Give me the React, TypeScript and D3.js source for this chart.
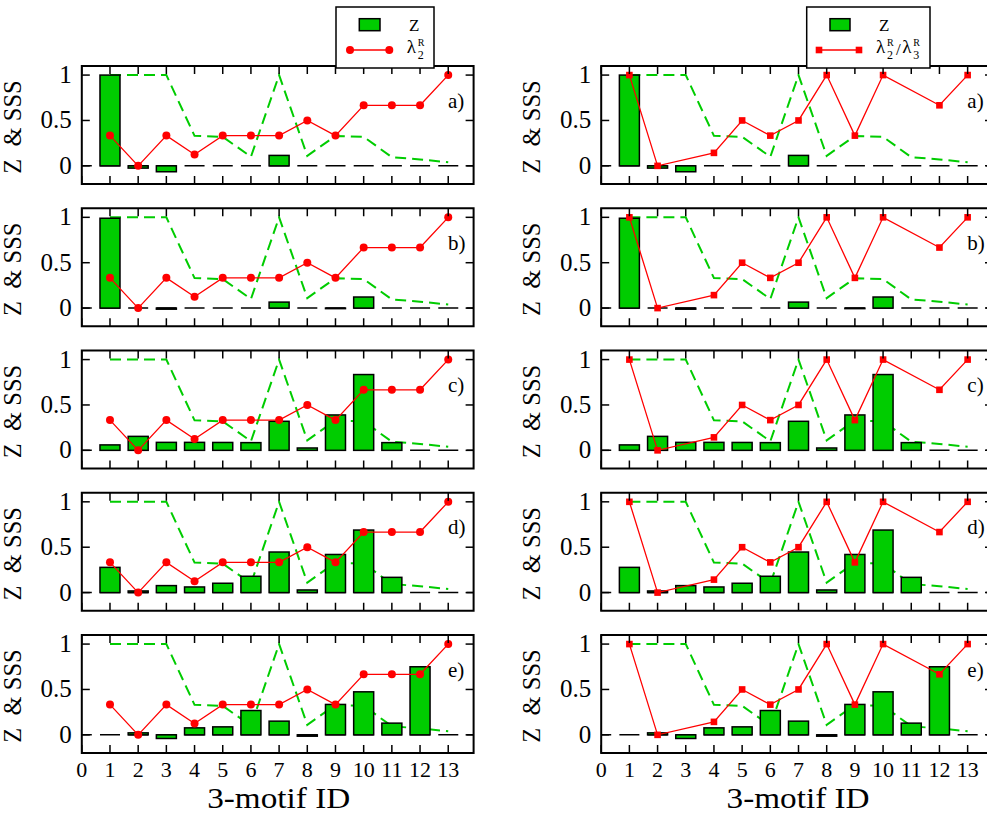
import React from "react";
import * as d3 from "d3";

const motifIds = [1, 2, 3, 4, 5, 6, 7, 8, 9, 10, 11, 12, 13];
const xTickLabels = [0, 1, 2, 3, 4, 5, 6, 7, 8, 9, 10, 11, 12, 13];
const yTickValues = [0, 0.5, 1];
const yTickLabels = ["0", "0.5", "1"];
const panelLabels = ["a)", "b)", "c)", "d)", "e)"];

const sssValues = [1, 1, 1, 0.33, 0.32, 0.1, 1, 0.11, 0.33, 0.32, 0.095, 0.07, 0.04];
const lambda2 = [0.333, 0, 0.333, 0.125, 0.333, 0.333, 0.333, 0.5, 0.333, 0.667, 0.667, 0.667, 1];
const lambdaRatio: (number | null)[] = [1, 0, null, 0.143, 0.5, 0.333, 0.5, 1, 0.333, 1, null, 0.667, 1];

const zA = [1.0, -0.025, -0.065, 0, 0, 0, 0.115, 0, 0, 0, 0, 0, 0];
const zB = [0.99, 0, -0.012, 0, 0, 0, 0.066, 0, -0.006, 0.122, 0, 0, 0];
const zC = [0.06, 0.154, 0.088, 0.088, 0.087, 0.085, 0.32, 0.026, 0.39, 0.835, 0.085, 0, 0];
const zD = [0.278, 0.018, 0.077, 0.062, 0.103, 0.18, 0.447, 0.029, 0.42, 0.689, 0.168, 0, 0];
const zE = [0, 0.022, -0.04, 0.077, 0.088, 0.268, 0.151, -0.015, 0.335, 0.474, 0.129, 0.75, 0];
const zPanels = [zA, zB, zC, zD, zE];

const W = 987;
const H = 814;
const FONT =
  '"Liberation Serif", LiberationSerif, Tinos, "Times New Roman", Times, "Nimbus Roman", "Nimbus Roman No9 L", FreeSerif, "Noto Serif", "DejaVu Serif", serif';
const GREEN = "#00cc00";
const RED = "#ff0000";

const plotW = 391.8;
const plotH = 118;
const panelTop0 = 66;
const panelStep = 142.25;
const columns = [
  { x0: 81.8, square: false },
  { x0: 601.2, square: true },
];

function T(props: any) {
  const { size, style, children, ...rest } = props;
  return (
    <text {...rest} style={{ fontFamily: FONT, fontSize: size, ...(style || {}) }}>
      {children}
    </text>
  );
}

function Panel({ x0, top, z, label, square, showX }: any) {
  const x = d3.scaleLinear().domain([0, 13.9]).range([x0, x0 + plotW]);
  const y = d3.scaleLinear().domain([-0.2, 1.1]).range([top + plotH, top]);
  const unit = x(1) - x(0);
  const barW = 0.71 * unit;

  const sssLine = d3
    .line<number>()
    .x((_, i) => x(motifIds[i]))
    .y((d) => y(d))(sssValues);

  const redData = square ? lambdaRatio : lambda2;
  const redPts = motifIds
    .map((id, i) => ({ id, v: redData[i] }))
    .filter((p) => p.v !== null) as { id: number; v: number }[];
  const redLine = d3
    .line<{ id: number; v: number }>()
    .x((p) => x(p.id))
    .y((p) => y(p.v))(redPts);

  const right = x0 + plotW;
  const bottom = top + plotH;
  return (
    <g>
      <line
        x1={x(0)}
        x2={right}
        y1={y(0)}
        y2={y(0)}
        stroke="#000"
        strokeWidth={1.5}
        strokeDasharray="20 8.19"
        strokeDashoffset={10}
      />
      <path d={sssLine || ""} fill="none" stroke={GREEN} strokeWidth={2} strokeDasharray="11 6" />
      {z.map((v: number, i: number) =>
        v === 0 ? null : (
          <rect
            key={i}
            x={x(motifIds[i]) - barW / 2}
            y={Math.min(y(v), y(0))}
            width={barW}
            height={Math.max(Math.abs(y(v) - y(0)), 0.5)}
            fill={GREEN}
            stroke="#000"
            strokeWidth={1.5}
          />
        )
      )}
      <path d={redLine || ""} fill="none" stroke={RED} strokeWidth={1.3} />
      {redPts.map((p, i) =>
        square ? (
          <rect key={i} x={x(p.id) - 3.3} y={y(p.v) - 3.3} width={6.6} height={6.6} fill={RED} />
        ) : (
          <circle key={i} cx={x(p.id)} cy={y(p.v)} r={4} fill={RED} />
        )
      )}
      <rect x={x0} y={top} width={plotW} height={plotH} fill="none" stroke="#000" strokeWidth={2} />
      {xTickLabels.map((t) => (
        <g key={t}>
          <line x1={x(t)} x2={x(t)} y1={bottom} y2={bottom - 8} stroke="#000" strokeWidth={1.5} />
          <line x1={x(t)} x2={x(t)} y1={top} y2={top + 8} stroke="#000" strokeWidth={1.5} />
          {showX && (
            <T x={x(t)} y={777} textAnchor="middle" size={22}>
              {t}
            </T>
          )}
        </g>
      ))}
      {yTickValues.map((t, i) => (
        <g key={t}>
          <line x1={x0} x2={x0 + 8} y1={y(t)} y2={y(t)} stroke="#000" strokeWidth={1.5} />
          <line x1={right} x2={right - 8} y1={y(t)} y2={y(t)} stroke="#000" strokeWidth={1.5} />
          <T x={x0 - 10} y={y(t) + 8} textAnchor="end" size={25}>
            {yTickLabels[i]}
          </T>
        </g>
      ))}
      <T
        transform={`translate(${x0 - 61},${top + 61}) rotate(-90)`}
        textAnchor="middle"
        size={24.5}
        style={{ whiteSpace: "pre" }}
      >
        {"Z  & SSS"}
      </T>
      <T x={x(12.99)} y={top + 41.5} size={21}>
        {label}
      </T>
      {showX && (
        <T
          x={(x0 + right) / 2 + 1}
          y={808}
          textAnchor="middle"
          size={30}
          textLength={143}
          lengthAdjust="spacingAndGlyphs"
        >
          3-motif ID
        </T>
      )}
    </g>
  );
}

function LambdaSym({ x, sub }: { x: number; sub: string }) {
  return (
    <g>
      <T x={x} y={53} size={19}>
        λ
      </T>
      <T x={x + 11} y={45.5} size={10}>
        R
      </T>
      <T x={x + 11} y={59} size={12}>
        {sub}
      </T>
    </g>
  );
}

export default function App() {
  return (
    <div style={{ position: "absolute", left: 0, top: 0, width: W, height: H, overflow: "hidden", background: "#fff" }}>
      <svg width={W} height={H} style={{ display: "block" }}>
        <rect width={W} height={H} fill="#fff" />
        {columns.map((c, ci) =>
          zPanels.map((z, pi) => (
            <Panel
              key={`${ci}-${pi}`}
              x0={c.x0}
              top={panelTop0 + pi * panelStep}
              z={z}
              label={panelLabels[pi]}
              square={c.square}
              showX={pi === 4}
            />
          ))
        )}
        <g>
          <rect x={336} y={7} width={98} height={61} fill="#fff" stroke="#000" strokeWidth={1.5} />
          <rect x={359.3} y={18.7} width={20.7} height={12} fill={GREEN} stroke="#000" strokeWidth={1.5} />
          <T x={409} y={31} size={17}>
            Z
          </T>
          <line x1={350} x2={389.3} y1={50} y2={50} stroke={RED} strokeWidth={1.3} />
          <circle cx={350} cy={50} r={4} fill={RED} />
          <circle cx={389.3} cy={50} r={4} fill={RED} />
          <LambdaSym x={406.7} sub="2" />
        </g>
        <g>
          <rect x={806.7} y={7} width={123.3} height={61} fill="#fff" stroke="#000" strokeWidth={1.5} />
          <rect x={830} y={18.7} width={20} height={12} fill={GREEN} stroke="#000" strokeWidth={1.5} />
          <T x={879} y={31} size={17}>
            Z
          </T>
          <line x1={819} x2={859} y1={50} y2={50} stroke={RED} strokeWidth={1.3} />
          <rect x={815.7} y={46.7} width={6.6} height={6.6} fill={RED} />
          <rect x={855.7} y={46.7} width={6.6} height={6.6} fill={RED} />
          <LambdaSym x={876} sub="2" />
          <T x={896} y={55} size={17}>
            /
          </T>
          <LambdaSym x={902.3} sub="3" />
        </g>
      </svg>
    </div>
  );
}
